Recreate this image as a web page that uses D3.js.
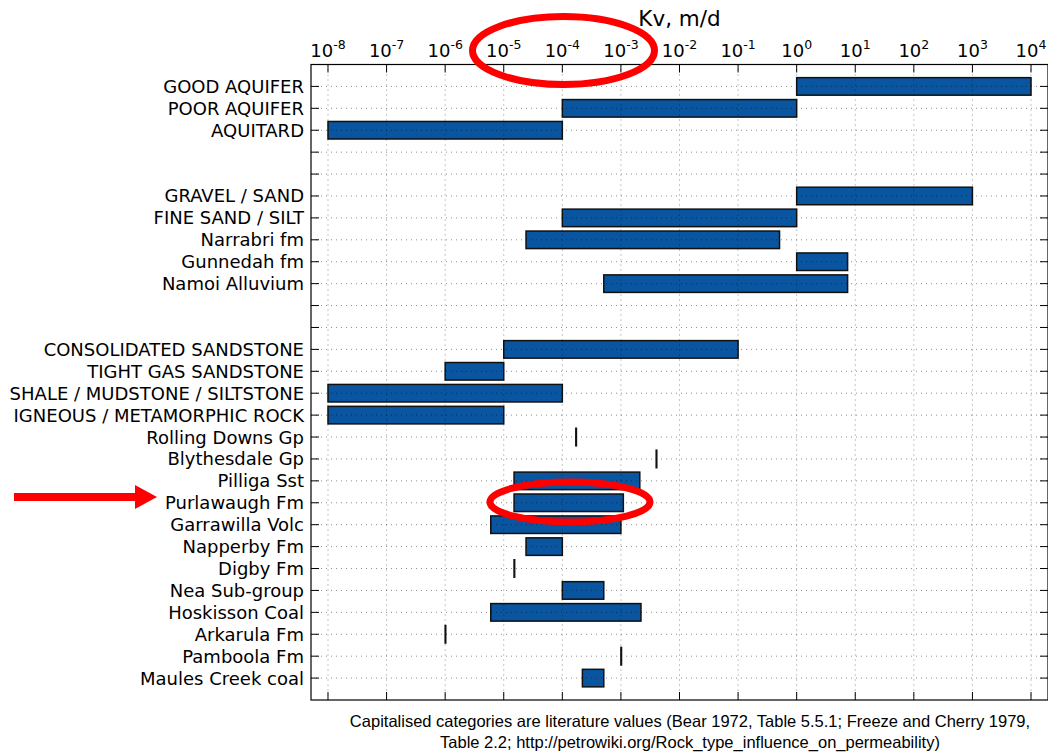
<!DOCTYPE html>
<html>
<head>
<meta charset="utf-8">
<script src="https://cdn.jsdelivr.net/npm/d3@7/dist/d3.min.js"></script>
<style>
  body { margin: 0; background: #fff; }
  text { font-family: "DejaVu Sans", sans-serif; fill: #000; }
</style>
</head>
<body>
<div id="kv_chart"></div>
<script>
// rows top to bottom, "" = spacer row
var rowNames = ["GOOD AQUIFER", "POOR AQUIFER", "AQUITARD", "", "",
  "GRAVEL / SAND", "FINE SAND / SILT", "Narrabri fm", "Gunnedah fm", "Namoi Alluvium", "", "",
  "CONSOLIDATED SANDSTONE", "TIGHT GAS SANDSTONE", "SHALE / MUDSTONE / SILTSTONE",
  "IGNEOUS / METAMORPHIC ROCK", "Rolling Downs Gp", "Blythesdale Gp", "Pilliga Sst",
  "Purlawaugh Fm", "Garrawilla Volc", "Napperby Fm", "Digby Fm", "Nea Sub-group",
  "Hoskisson Coal", "Arkarula Fm", "Pamboola Fm", "Maules Creek coal"];

// Kv range, m/d
var kvLow = [1, 1e-4, 1e-8, null, null,
  1, 1e-4, 2.4e-5, 1, 5.1e-4, null, null,
  1e-5, 1e-6, 1e-8, 1e-8, 1.7e-4, 4e-3, 1.5e-5,
  1.5e-5, 6e-6, 2.4e-5, 1.5e-5, 1e-4, 6e-6, 1e-6, 1e-3, 2.2e-4];
var kvHigh = [1e4, 1, 1e-4, null, null,
  1e3, 1, 0.51, 7.4, 7.4, null, null,
  0.1, 1e-5, 1e-4, 1e-5, 1.7e-4, 4e-3, 2.1e-3,
  1.1e-3, 1e-3, 1e-4, 1.5e-5, 5.1e-4, 2.2e-3, 1e-6, 1e-3, 5.1e-4];

var tickExps = [-8, -7, -6, -5, -4, -3, -2, -1, 0, 1, 2, 3, 4];

var footLines = ["Capitalised categories are literature values (Bear 1972, Table 5.5.1; Freeze and Cherry 1979,",
  "Table 2.2; http://petrowiki.org/Rock_type_influence_on_permeability)"];

var W = 1048, H = 753;
var box = { left: 311, right: 1048, top: 64.5, bottom: 700 };

var svg = d3.select("#kv_chart").append("svg")
  .attr("width", W)
  .attr("height", H);

var x = d3.scaleLog()
  .domain([Math.pow(10, -8.29), Math.pow(10, 4.29)])
  .range([box.left, box.right]);

var y = d3.scalePoint()
  .domain(d3.range(rowNames.length))
  .range([box.top, box.bottom])
  .padding(1);

var barH = y.step() * 0.8;

var grid = svg.append("g")
  .attr("stroke", "#000")
  .attr("stroke-opacity", 0.5)
  .attr("stroke-width", 0.9)
  .attr("stroke-dasharray", "1,4");

// vertical grid
grid.selectAll(".vg")
  .data(tickExps)
  .enter().append("line")
  .attr("x1", function (d) { return x(Math.pow(10, d)); })
  .attr("x2", function (d) { return x(Math.pow(10, d)); })
  .attr("y1", box.top)
  .attr("y2", box.bottom);

// horizontal grid
grid.selectAll(".hg")
  .data(y.domain())
  .enter().append("line")
  .attr("x1", box.left)
  .attr("x2", box.right)
  .attr("y1", function (d) { return y(d); })
  .attr("y2", function (d) { return y(d); });

// bars
var rows = d3.range(rowNames.length).filter(function (i) { return kvLow[i] != null; });

svg.append("g")
  .selectAll("rect")
  .data(rows)
  .enter().append("rect")
  .attr("x", function (i) { return x(kvLow[i]); })
  .attr("width", function (i) { return Math.max(0.6, x(kvHigh[i]) - x(kvLow[i])); })
  .attr("y", function (i) { return y(i) - barH / 2; })
  .attr("height", barH)
  .style("fill", "#0a559f")
  .style("stroke", "#111")
  .style("stroke-width", 1.5);

// grid runs over the bars too
grid.raise();

// frame
svg.append("rect")
  .attr("x", box.left)
  .attr("y", box.top)
  .attr("width", box.right - box.left)
  .attr("height", box.bottom - box.top)
  .attr("fill", "none")
  .attr("stroke", "#000")
  .attr("stroke-width", 1.2);

// ticks, all pointing inwards
var tk = svg.append("g").attr("stroke", "#000").attr("stroke-width", 1);
tickExps.forEach(function (e) {
  var xx = x(Math.pow(10, e));
  tk.append("line").attr("x1", xx).attr("x2", xx).attr("y1", box.top).attr("y2", box.top + 8);
  tk.append("line").attr("x1", xx).attr("x2", xx).attr("y1", box.bottom).attr("y2", box.bottom - 8);
});
y.domain().forEach(function (i) {
  tk.append("line").attr("x1", box.left).attr("x2", box.left + 8).attr("y1", y(i)).attr("y2", y(i));
  tk.append("line").attr("x1", box.right).attr("x2", box.right - 8).attr("y1", y(i)).attr("y2", y(i));
});

// top tick labels 10^n
var tl = svg.append("g")
  .selectAll("text")
  .data(tickExps)
  .enter().append("text")
  .attr("x", function (d) { return x(Math.pow(10, d)); })
  .attr("y", 57)
  .attr("text-anchor", "middle")
  .style("font-size", "18px");
tl.append("tspan").text("10");
tl.append("tspan")
  .attr("dy", -8)
  .style("font-size", "12.5px")
  .text(function (d) { return d; });

// row labels
svg.append("g")
  .selectAll("text")
  .data(y.domain())
  .enter().append("text")
  .attr("x", 304)
  .attr("y", function (d) { return y(d); })
  .attr("dy", "0.36em")
  .attr("text-anchor", "end")
  .style("font-size", "18px")
  .text(function (d) { return rowNames[d]; });

// axis title
svg.append("text")
  .attr("x", (box.left + box.right) / 2)
  .attr("y", 26)
  .attr("text-anchor", "middle")
  .style("font-size", "21.5px")
  .text("Kv, m/d");

// footnote
svg.append("g")
  .selectAll("text")
  .data(footLines)
  .enter().append("text")
  .attr("x", 690)
  .attr("y", function (d, i) { return 727 + i * 21; })
  .attr("text-anchor", "middle")
  .style("font-family", "'Liberation Sans', Arial, sans-serif")
  .style("font-size", "16.5px")
  .text(function (d) { return d; });

// red highlights
var red = svg.append("g").attr("fill", "none").attr("stroke", "#f00").attr("stroke-width", 7);
red.append("ellipse").attr("cx", 563.5).attr("cy", 50.5).attr("rx", 91).attr("ry", 34);
red.append("ellipse").attr("cx", 570).attr("cy", 502).attr("rx", 80).attr("ry", 20);

svg.append("line")
  .attr("x1", 14).attr("x2", 137)
  .attr("y1", 497).attr("y2", 497)
  .attr("stroke", "#f00")
  .attr("stroke-width", 8);
svg.append("path")
  .attr("d", d3.line()([[135, 485], [157, 497], [135, 509]]))
  .attr("fill", "#f00");
</script>
</body>
</html>
